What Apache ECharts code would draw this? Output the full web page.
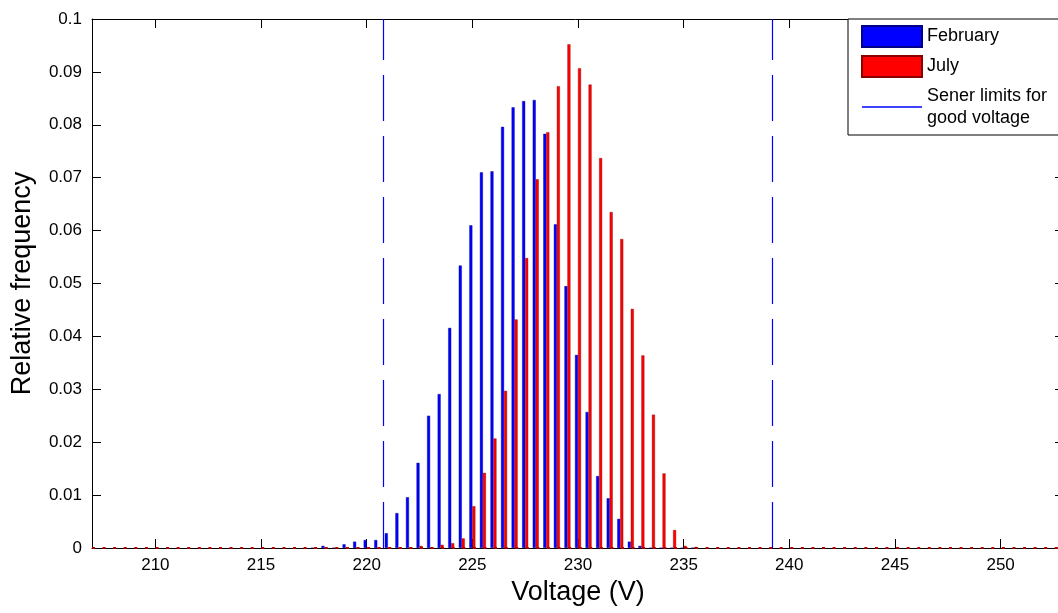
<!DOCTYPE html>
<html>
<head>
<meta charset="utf-8">
<script src="https://cdn.jsdelivr.net/npm/echarts@6/dist/echarts.min.js"></script>
<style>
html,body{margin:0;padding:0;background:#fff;overflow:hidden;}
#chart{width:1058px;height:613px;}
</style>
</head>
<body>
<div id="chart"></div>
<script>
// Bin centres (V)
var voltages = [217.5,218,218.5,219,219.5,220,220.5,221,221.5,222,222.5,223,223.5,224,224.5,225,225.5,226,226.5,227,227.5,228,228.5,229,229.5,230,230.5,231,231.5,232,232.5,233,233.5,234,234.5,235,235.5];
// Relative frequency, February
var february = [0,0.0004,0,0.0007,0.0012,0.0015,0.0015,0.0028,0.0066,0.0096,0.0161,0.0250,0.0291,0.0416,0.0534,0.0610,0.0710,0.0712,0.0796,0.0833,0.0845,0.0847,0.0783,0.0612,0.0495,0.0365,0.0257,0.0136,0.0094,0.0055,0.0012,0.0004,0,0,0,0,0];
// Relative frequency, July
var july = [0,0,0,0,0,0,0,0,0,0,0.0004,0.0001,0.0006,0.0009,0.0018,0.0079,0.0142,0.0207,0.0297,0.0432,0.0548,0.0697,0.0786,0.0873,0.0952,0.0907,0.0876,0.0737,0.0635,0.0584,0.0452,0.0364,0.0252,0.0141,0.0034,0.0004,0.0002];
// Sener limits for good voltage (230 V +/- 4%)
var limits = [220.8, 239.2];
var xTicks = [210,215,220,225,230,235,240,245,250];
var xMin = 207, xMax = 253;
var yMin = 0, yMax = 0.1, yStep = 0.01;

var FONT = "'Liberation Sans', Arial, Helvetica, sans-serif";
var chart = echarts.init(document.getElementById('chart'), null, {renderer:'canvas'});

function pairs(vals){ return voltages.map(function(v,i){ return [v, vals[i]]; }); }

var option = {
  animation: false,
  backgroundColor: '#fff',
  textStyle: {fontFamily: FONT, color: '#000'},
  grid: {left: 92, top: 19, right: -6, bottom: 65, containLabel: false, outerBoundsMode: 'none'},
  legend: {
    orient: 'vertical',
    left: 848, top: 19,
    itemWidth: 60, itemHeight: 21, itemGap: 7,
    padding: [6, 45, 6, 13],
    backgroundColor: '#fff', borderColor: '#000', borderWidth: 1, borderRadius: 0,
    textStyle: {fontSize: 18, lineHeight: 22, color: '#000', fontFamily: FONT},
    formatter: function(n){ return n.replace('for ', 'for\n'); },
    data: [
      {name: 'February', icon: 'rect'},
      {name: 'July', icon: 'rect'},
      {name: 'Sener limits for good voltage', icon: 'path://M0,0 h46 v1 h-46 z'}
    ]
  },
  graphic: {
    zlevel: 2, z: 1000,
    elements: [{
      type: 'rect', zlevel: 2, z: 1000, silent: true,
      shape: {x: 1054, y: 20, width: 8, height: 114},
      style: {fill: '#ffffff'}
    }]
  },
  xAxis: [{
    type: 'value', min: xMin, max: xMax, position: 'bottom',
    name: 'Voltage (V)', nameLocation: 'middle', nameGap: 30,
    nameTextStyle: {fontSize: 27, color: '#000', fontFamily: FONT},
    axisLine: {show: true, onZero: false, lineStyle: {color: '#000', width: 1}},
    axisTick: {show: true, inside: true, length: 9, customValues: xTicks, lineStyle: {color: '#000'}},
    axisLabel: {show: true, fontSize: 17, color: '#000', margin: 9, customValues: xTicks, fontFamily: FONT},
    splitLine: {show: false}
  }, {
    type: 'value', min: xMin, max: xMax, position: 'top',
    axisLine: {show: true, onZero: false, lineStyle: {color: '#000', width: 1}},
    axisTick: {show: true, inside: true, length: 9, customValues: xTicks, lineStyle: {color: '#000'}},
    axisLabel: {show: false},
    splitLine: {show: false}
  }],
  yAxis: [{
    type: 'value', min: yMin, max: yMax, interval: yStep, position: 'left',
    name: 'Relative frequency', nameLocation: 'middle', nameGap: 56, nameRotate: 90,
    nameTextStyle: {fontSize: 27, color: '#000', fontFamily: FONT},
    axisLine: {show: true, onZero: false, lineStyle: {color: '#000', width: 1}},
    axisTick: {show: true, inside: true, length: 9, lineStyle: {color: '#000'}},
    axisLabel: {show: true, fontSize: 17, color: '#000', margin: 10, fontFamily: FONT},
    splitLine: {show: false}
  }, {
    type: 'value', min: yMin, max: yMax, interval: yStep, position: 'right',
    axisLine: {show: true, onZero: false, lineStyle: {color: '#000', width: 1}},
    axisTick: {show: true, inside: true, length: 9, lineStyle: {color: '#000'}},
    axisLabel: {show: false},
    splitLine: {show: false}
  }],
  series: [{
    name: 'February', type: 'bar', xAxisIndex: 0, yAxisIndex: 0,
    data: pairs(february),
    barWidth: 3, barGap: '0%',
    itemStyle: {color: '#0000ff', borderColor: '#00008a', borderWidth: 0.4}
  }, {
    name: 'July', type: 'bar', xAxisIndex: 0, yAxisIndex: 0,
    data: pairs(july),
    barWidth: 3, barGap: '0%',
    itemStyle: {color: '#ff0000', borderColor: '#8a0000', borderWidth: 0.4},
    markLine: {
      silent: true, symbol: 'none', label: {show: false},
      lineStyle: {color: '#b00000', type: [3, 7.58], width: 2},
      data: [{yAxis: 0}]
    }
  }, {
    name: 'Sener limits for good voltage', type: 'line', xAxisIndex: 0, yAxisIndex: 0,
    data: [], symbol: 'none',
    lineStyle: {color: '#0000ff', width: 1, type: [46, 15]},
    itemStyle: {color: '#0000ff'},
    markLine: {
      silent: true, symbol: 'none', label: {show: false},
      lineStyle: {color: '#0000ff', width: 1.2, type: [46, 15]},
      data: limits.map(function(v){ return [{coord: [v, yMin]}, {coord: [v, yMax]}]; })
    }
  }]
};
chart.setOption(option);
</script>
</body>
</html>
